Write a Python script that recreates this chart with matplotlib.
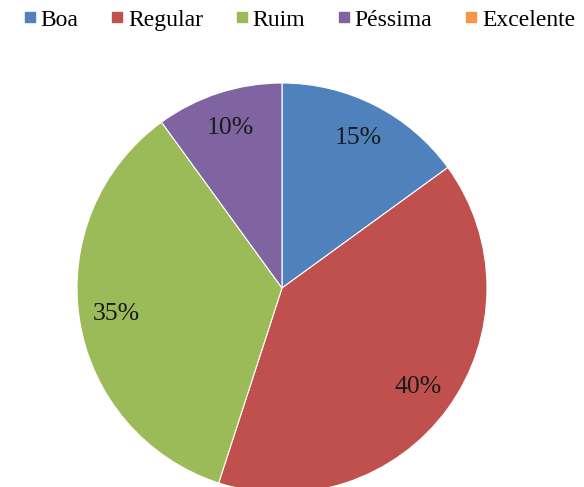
import matplotlib
matplotlib.use("Agg")
from matplotlib import pyplot as plt
from matplotlib.lines import Line2D

categorias = ["Boa", "Regular", "Ruim", "Péssima", "Excelente"]
valores = [15, 40, 35, 10, 0]
cores = ["#4F81BD", "#C0504D", "#9BBB59", "#8064A2", "#F79646"]

plt.rcParams['font.family'] = ['Liberation Serif', 'DejaVu Serif']

fig = plt.figure(figsize=(5.84, 4.87), dpi=100)
ax = fig.add_axes([77/584, -6/487, 410/584, 410/487])

# so as fatias com valor > 0 sao desenhadas
vals = [v for v in valores if v > 0]
cols = [c for v, c in zip(valores, cores) if v > 0]
wedges, texts, autotexts = ax.pie(vals, colors=cols, startangle=90, counterclock=False,
                                  autopct='%d%%', pctdistance=0.82,
                                  wedgeprops=dict(edgecolor='white', linewidth=0.8),
                                  textprops=dict(fontsize=18.5, color='#1a1a1a'))
ax.set_xlim(-1, 1)
ax.set_ylim(-1, 1)
ax.set_aspect('equal')

handles = [Line2D([], [], marker='s', linestyle='', markersize=7, color=c) for c in cores]
fig.legend(handles, categorias, loc='upper center', bbox_to_anchor=(0.51, 1.025), ncol=5,
           frameon=False, prop={'family': 'Liberation Serif', 'size': 17},
           handletextpad=0.05, columnspacing=1.25, handlelength=0.8)

fig.savefig("out.png", dpi=100)
